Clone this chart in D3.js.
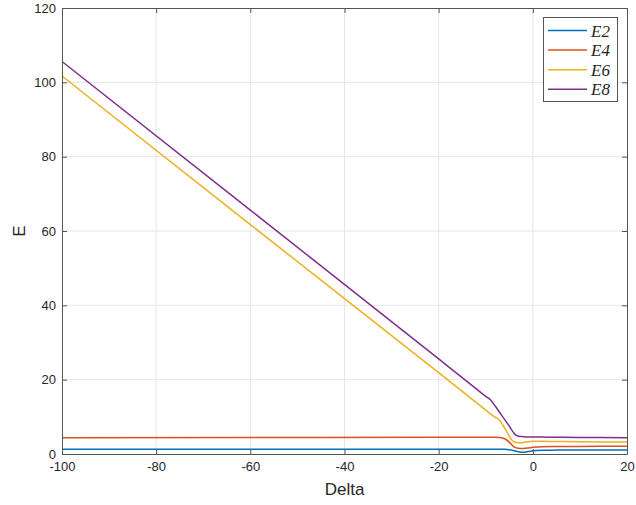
<html>
<head><meta charset="utf-8"></head>
<body style="margin:0">
<script src="https://d3js.org/d3.v7.min.js"></script>
<svg width="636" height="505"></svg>
<script>
// values
var delta = [-100, -60, -20, -12, -10, -9, -8, -7, -6, -5, -4.5, -4, -3.5, -3, -2.3, -2, -1, 0, 2, 5, 10, 20];
var seriesNames = ["E2", "E4", "E6", "E8"];
var E2 = [1.3, 1.3, 1.3, 1.3, 1.3, 1.3, 1.3, 1.3, 1.27, 1.15, 1.05, 0.9, 0.75, 0.6, 0.45, 0.5, 0.65, 0.85, 1.0, 1.05, 1.1, 1.1];
var E4 = [4.4, 4.45, 4.5, 4.5, 4.5, 4.5, 4.5, 4.45, 4.1, 3.2, 2.5, 1.9, 1.65, 1.55, 1.5, 1.5, 1.6, 1.8, 1.95, 2.0, 2.05, 2.1];
var E6 = [101.7, 61.7, 21.9, 13.8, 11.8, 10.8, 9.9, 9.0, 7.0, 4.8, 3.8, 3.3, 3.1, 3.0, 3.0, 3.1, 3.3, 3.4, 3.4, 3.35, 3.3, 3.2];
var E8 = [105.6, 65.6, 25.6, 17.5, 15.5, 14.6, 12.9, 11.1, 9.3, 7.5, 6.5, 5.6, 5.0, 4.8, 4.7, 4.65, 4.6, 4.6, 4.55, 4.5, 4.45, 4.4];
var colors = ["#0072BD", "#D95319", "#EDB120", "#7E2F8E"];
var xTicks = [-100, -80, -60, -40, -20, 0, 20];
var yTicks = [0, 20, 40, 60, 80, 100, 120];

var mL = 62, mR = 627, mT = 8, mB = 454;
var svg = d3.select("svg");
var font = "'Liberation Sans', Arial, sans-serif";

var x = d3.scaleLinear().domain([-100, 20]).range([mL, mR]);
var y = d3.scaleLinear().domain([0, 120]).range([mB, mT]);

svg.append("rect").attr("x", 0).attr("y", 0).attr("width", 636).attr("height", 505).attr("fill", "white");

// grid
svg.append("g").selectAll("line").data(xTicks.slice(1, -1)).enter().append("line")
    .attr("x1", function(d) { return x(d); }).attr("x2", function(d) { return x(d); })
    .attr("y1", mT).attr("y2", mB)
    .attr("stroke", "#e6e6e6").attr("stroke-width", 1);
svg.append("g").selectAll("line").data(yTicks.slice(1, -1)).enter().append("line")
    .attr("y1", function(d) { return y(d); }).attr("y2", function(d) { return y(d); })
    .attr("x1", mL).attr("x2", mR)
    .attr("stroke", "#e6e6e6").attr("stroke-width", 1);

// lines
var allSeries = [E2, E4, E6, E8];
var line = d3.line()
    .x(function(d, i) { return x(delta[i]); })
    .y(function(d) { return y(d); })
    .curve(d3.curveMonotoneX);
svg.append("g").selectAll("path").data(allSeries).enter().append("path")
    .attr("d", line)
    .attr("fill", "none")
    .attr("stroke", function(d, i) { return colors[i]; })
    .attr("stroke-width", 1.5);

// axes with inward ticks
var axisColor = "#555";
var plain = function(d) { return String(d); };
var bx = svg.append("g").attr("transform", "translate(0," + mB + ")")
    .call(d3.axisBottom(x).tickValues(xTicks).tickSizeInner(-5).tickSizeOuter(0).tickPadding(8).tickFormat(plain));
var tx = svg.append("g").attr("transform", "translate(0," + mT + ")")
    .call(d3.axisTop(x).tickValues(xTicks).tickSizeInner(-5).tickSizeOuter(0).tickFormat(""));
var ly = svg.append("g").attr("transform", "translate(" + mL + ",0)")
    .call(d3.axisLeft(y).tickValues(yTicks).tickSizeInner(-5).tickSizeOuter(0).tickPadding(6).tickFormat(plain));
var ry = svg.append("g").attr("transform", "translate(" + mR + ",0)")
    .call(d3.axisRight(y).tickValues(yTicks).tickSizeInner(-5).tickSizeOuter(0).tickFormat(""));
[bx, tx, ly, ry].forEach(function(g) {
    g.selectAll("path, line").attr("stroke", axisColor);
    g.selectAll("text").attr("fill", "#262626").style("font-family", font).style("font-size", "13px");
});

svg.append("text").attr("x", (mL + mR) / 2).attr("y", 495)
    .attr("text-anchor", "middle").style("font-family", font).style("font-size", "17px")
    .attr("fill", "#262626").text("Delta");
svg.append("text").attr("transform", "translate(25," + ((mT + mB) / 2) + ") rotate(-90)")
    .attr("text-anchor", "middle").style("font-family", font).style("font-size", "17px")
    .attr("fill", "#262626").text("E");

// legend
var lg = svg.append("g");
lg.append("rect").attr("x", 543.5).attr("y", 17.5).attr("width", 74).attr("height", 84)
    .attr("fill", "white").attr("stroke", "#555").attr("stroke-width", 1);
var rows = lg.selectAll("g.row").data(seriesNames).enter().append("g")
    .attr("transform", function(d, i) { return "translate(0," + (30.5 + i * 19.6) + ")"; });
rows.append("line").attr("x1", 548).attr("x2", 587).attr("y1", 0).attr("y2", 0)
    .attr("stroke", function(d, i) { return colors[i]; }).attr("stroke-width", 1.5);
rows.append("text").attr("x", 591).attr("y", 6)
    .style("font-family", "'Liberation Serif', 'DejaVu Serif', serif").style("font-style", "italic")
    .style("font-size", "17px").attr("fill", "#262626")
    .text(function(d) { return d; });
</script>
</body>
</html>
